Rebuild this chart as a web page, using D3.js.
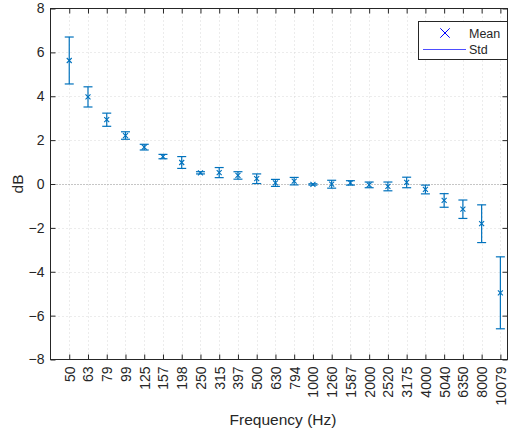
<!DOCTYPE html>
<html>
<head>
<meta charset="utf-8">
<script src="https://cdn.jsdelivr.net/npm/d3@7"></script>
<style>
  body { margin: 0; background: #fff; }
  text { font-family: "Liberation Sans", Arial, sans-serif; fill: #262626; }
</style>
</head>
<body>
<div id="chart"></div>
<script>
// frequency bands (Hz), shown as categories
var freqs = ['50','63','79','99','125','157','198','250','315','397','500','630',
             '794','1000','1260','1587','2000','2520','3175','4000','5040','6350','8000','10079'];
// mean deviation per band (dB)
var means = [5.63, 3.97, 2.93, 2.21, 1.68, 1.25, 0.98, 0.51, 0.52, 0.39, 0.24, 0.05,
             0.13, -0.02, -0.01, 0.05, -0.04, -0.11, 0.07, -0.25, -0.75, -1.15, -1.81, -4.96];
// standard deviation per band (dB)
var stds = [1.07, 0.46, 0.30, 0.17, 0.13, 0.10, 0.27, 0.05, 0.23, 0.17, 0.22, 0.16,
            0.17, 0.03, 0.18, 0.10, 0.13, 0.20, 0.24, 0.20, 0.31, 0.42, 0.86, 1.64];
var yTicks = [-8, -6, -4, -2, 0, 2, 4, 6, 8];

var width = 513, height = 434;
var axL = 50.5, axR = 507.5, axT = 8.5, axB = 359.5;
var blue = '#0072BD';

var svg = d3.select('#chart').append('svg')
  .attr('width', width)
  .attr('height', height);

var x = d3.scaleLinear().domain([0, 24.38]).range([axL, axR]);
var y = d3.scaleLinear().domain([-8, 8]).range([axB, axT]);

var idx = d3.range(1, freqs.length + 1);

// grid
var grid = svg.append('g');
grid.selectAll('line.gx')
  .data(idx)
  .enter().append('line')
  .attr('x1', function(d) { return Math.round(x(d)) + 0.5; })
  .attr('x2', function(d) { return Math.round(x(d)) + 0.5; })
  .attr('y1', axT).attr('y2', axB)
  .attr('stroke', '#d9d9d9')
  .attr('stroke-dasharray', '1,3');
grid.selectAll('line.gy')
  .data(yTicks.filter(function(d) { return d !== 0 && d !== 8 && d !== -8; }))
  .enter().append('line')
  .attr('x1', axL).attr('x2', axR)
  .attr('y1', function(d) { return Math.round(y(d)) + 0.5; })
  .attr('y2', function(d) { return Math.round(y(d)) + 0.5; })
  .attr('stroke', '#d9d9d9')
  .attr('stroke-dasharray', '1,3');

// zero reference line
svg.append('line')
  .attr('x1', axL).attr('x2', axR)
  .attr('y1', Math.round(y(0)) + 0.5).attr('y2', Math.round(y(0)) + 0.5)
  .attr('stroke', '#8c8c8c')
  .attr('stroke-dasharray', '1,2');

// axes (MATLAB style, ticks inward, box on)
var xAxis = d3.axisBottom(x).tickValues(idx).tickSize(-5).tickFormat(function(d) { return freqs[d - 1]; });
var gx = svg.append('g')
  .attr('transform', 'translate(0,' + axB + ')')
  .call(xAxis);
gx.selectAll('text')
  .attr('transform', 'rotate(-90)')
  .attr('text-anchor', 'end')
  .attr('x', -7)
  .attr('y', 0)
  .attr('dy', '0.35em')
  .style('font-size', '14px');

var gxTop = svg.append('g')
  .attr('transform', 'translate(0,' + axT + ')')
  .call(d3.axisTop(x).tickValues(idx).tickSize(-5).tickFormat(''));

var yAxis = d3.axisLeft(y).tickValues(yTicks).tickSize(-5).tickPadding(6);
var gy = svg.append('g')
  .attr('transform', 'translate(' + axL + ',0)')
  .call(yAxis);
gy.selectAll('text').style('font-size', '14px');

var gyR = svg.append('g')
  .attr('transform', 'translate(' + axR + ',0)')
  .call(d3.axisRight(y).tickValues(yTicks).tickSize(-5).tickFormat(''));

[gx, gxTop, gy, gyR].forEach(function(g) {
  g.selectAll('.domain').remove();
  g.selectAll('.tick line').attr('stroke', '#262626');
});
svg.append('rect')
  .attr('x', axL).attr('y', axT)
  .attr('width', axR - axL).attr('height', axB - axT)
  .attr('fill', 'none')
  .attr('stroke', '#262626');

// error bars
var bars = svg.append('g').selectAll('g')
  .data(idx)
  .enter().append('g');

bars.append('line')
  .attr('x1', function(d) { return x(d); })
  .attr('x2', function(d) { return x(d); })
  .attr('y1', function(d) { return y(means[d - 1] + stds[d - 1]); })
  .attr('y2', function(d) { return y(means[d - 1] - stds[d - 1]); })
  .attr('stroke', blue).attr('stroke-width', 1.2);
[1, -1].forEach(function(s) {
  bars.append('line')
    .attr('x1', function(d) { return x(d) - 4.5; })
    .attr('x2', function(d) { return x(d) + 4.5; })
    .attr('y1', function(d) { return y(means[d - 1] + s * stds[d - 1]); })
    .attr('y2', function(d) { return y(means[d - 1] + s * stds[d - 1]); })
    .attr('stroke', blue).attr('stroke-width', 1.2);
});

// mean markers
var cross = d3.symbol().type(d3.symbolX).size(18);
bars.append('path')
  .attr('d', cross)
  .attr('transform', function(d) { return 'translate(' + x(d) + ',' + y(means[d - 1]) + ')'; })
  .attr('fill', 'none')
  .attr('stroke', blue)
  .attr('stroke-width', 1.1);

// axis titles
svg.append('text')
  .attr('x', 283)
  .attr('y', 425)
  .attr('text-anchor', 'middle')
  .style('font-size', '15.5px')
  .text('Frequency (Hz)');
svg.append('text')
  .attr('transform', 'translate(23,' + y(0) + ') rotate(-90)')
  .attr('text-anchor', 'middle')
  .style('font-size', '15.5px')
  .text('dB');

// legend
var lg = svg.append('g');
lg.append('rect')
  .attr('x', 418.5).attr('y', 21.5)
  .attr('width', 89).attr('height', 38)
  .attr('fill', '#fff')
  .attr('stroke', '#262626');
lg.append('path')
  .attr('d', d3.symbol().type(d3.symbolX).size(60))
  .attr('transform', 'translate(445,33)')
  .attr('fill', 'none')
  .attr('stroke', '#0000ff')
  .attr('stroke-width', 1);
lg.append('line')
  .attr('x1', 423).attr('x2', 466)
  .attr('y1', 49.5).attr('y2', 49.5)
  .attr('stroke', '#4d4dff')
  .attr('stroke-width', 1);
lg.append('text').attr('x', 469).attr('y', 37.5).style('font-size', '12.5px').text('Mean');
lg.append('text').attr('x', 469).attr('y', 54).style('font-size', '12.5px').text('Std');
</script>
</body>
</html>
